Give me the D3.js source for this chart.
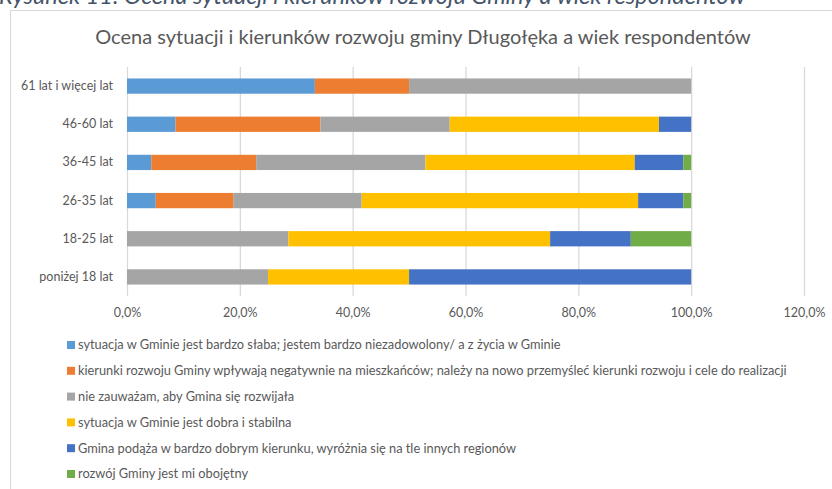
<!DOCTYPE html>
<html>
<head>
<meta charset="utf-8">
<script src="https://cdn.jsdelivr.net/npm/d3@7"></script>
<style>
  body { margin: 0; background: #fff; overflow: hidden; }
  text { font-family: Lato, "Open Sans", sans-serif; }
</style>
</head>
<body>
<script>
/* data (percent of each age group) */
const ageGroups = ['61 lat i więcej lat', '46-60 lat', '36-45 lat', '26-35 lat', '18-25 lat', 'poniżej 18 lat'];
const answers = [
  'sytuacja w Gminie jest bardzo słaba; jestem bardzo niezadowolony/ a z życia w Gminie',
  'kierunki rozwoju Gminy wpływają negatywnie na mieszkańców; należy na nowo przemyśleć kierunki rozwoju i cele do realizacji',
  'nie zauważam, aby Gmina się rozwijała',
  'sytuacja w Gminie jest dobra i stabilna',
  'Gmina podąża w bardzo dobrym kierunku, wyróżnia się na tle innych regionów',
  'rozwój Gminy jest mi obojętny'
];
const veryBad    = [33.3, 8.6, 4.3, 5.1, 0, 0];
const negative   = [16.7, 25.7, 18.6, 13.8, 0, 0];
const noProgress = [50.0, 22.9, 30.0, 22.7, 28.6, 25.0];
const goodStable = [0, 37.1, 37.1, 49.0, 46.4, 25.0];
const veryGood   = [0, 5.7, 8.6, 8.0, 14.3, 50.0];
const indifferent = [0, 0, 1.4, 1.4, 10.7, 0];
const xTicks = [0, 20, 40, 60, 80, 100, 120];
const colors = ['#5B9BD5', '#ED7D31', '#A5A5A5', '#FFC000', '#4472C4', '#70AD47'];

const width = 832, height = 489;
const margin = { top: 67, left: 127, right: 28, bottom: 193 };

const svg = d3.select('body').append('svg')
    .attr('width', width).attr('height', height);

/* caption above the chart (cut at the top, as in the document) */
svg.append('text').attr('x', -1).attr('y', 4)
   .attr('font-size', 23.5).attr('font-style', 'italic').attr('fill', '#44546A')
   .text('Rysunek 11. Ocena sytuacji i kierunków rozwoju Gminy a wiek respondentów');

/* chart frame */
svg.append('rect').attr('x', 10.5).attr('y', 10.5).attr('width', 900).attr('height', 600)
   .attr('fill', '#fff').attr('stroke', '#d9d9d9');

svg.append('text').attr('x', 423).attr('y', 44).attr('text-anchor', 'middle')
   .attr('font-size', 20).attr('fill', '#595959')
   .text('Ocena sytuacji i kierunków rozwoju gminy Długołęka a wiek respondentów');

const series = [veryBad, negative, noProgress, goodStable, veryGood, indifferent];
const rows = ageGroups.map((g, i) => {
  const r = { group: g };
  series.forEach((s, k) => r['s' + k] = s[i]);
  return r;
});
const stacked = d3.stack().keys(series.map((s, k) => 's' + k))(rows);

const xScale = d3.scaleLinear().domain([0, 120]).range([margin.left, width - margin.right]);
const yScale = d3.scaleBand().domain(ageGroups)
    .range([margin.top, height - margin.bottom]).paddingInner(0.6).paddingOuter(0.3);

/* gridlines */
svg.append('g').selectAll('line').data(xTicks).enter().append('line')
   .attr('x1', d => xScale(d) + 0.5).attr('x2', d => xScale(d) + 0.5)
   .attr('y1', margin.top).attr('y2', height - margin.bottom)
   .attr('stroke', '#d9d9d9').attr('stroke-width', 1.3);

/* bars */
svg.append('g').selectAll('g').data(stacked).enter().append('g')
   .attr('fill', (d, i) => colors[i])
   .selectAll('rect').data(d => d).enter().append('rect')
   .attr('x', d => xScale(d[0])).attr('width', d => xScale(d[1]) - xScale(d[0]))
   .attr('y', d => yScale(d.data.group)).attr('height', yScale.bandwidth());

/* x axis labels */
const xAxis = svg.append('g').attr('transform', 'translate(0,' + (height - margin.bottom) + ')')
   .call(d3.axisBottom(xScale).tickValues(xTicks).tickSize(0).tickPadding(12)
        .tickFormat(d => d3.format('.1f')(d).replace('.', ',') + '%'));
xAxis.select('.domain').remove();
xAxis.selectAll('text').attr('font-size', 12.5).attr('fill', '#595959')
     .style('font-family', 'Lato, "Open Sans", sans-serif');

/* y axis labels */
const yAxis = svg.append('g').attr('transform', 'translate(' + (margin.left - 14) + ',0)')
   .call(d3.axisLeft(yScale).tickSize(0).tickPadding(0));
yAxis.select('.domain').remove();
yAxis.selectAll('text').attr('font-size', 12.5).attr('fill', '#595959')
     .style('font-family', 'Lato, "Open Sans", sans-serif');

/* legend */
const legend = svg.append('g').selectAll('g').data(answers).enter().append('g')
   .attr('transform', (d, i) => 'translate(67,' + (345 + i * 25.8) + ')');
legend.append('rect').attr('x', 0).attr('y', -4).attr('width', 8).attr('height', 8)
   .attr('fill', (d, i) => colors[i]);
legend.append('text').attr('x', 11).attr('y', 0).attr('dy', '0.35em')
   .attr('font-size', 12.8).attr('fill', '#595959').text(d => d);
</script>
</body>
</html>
